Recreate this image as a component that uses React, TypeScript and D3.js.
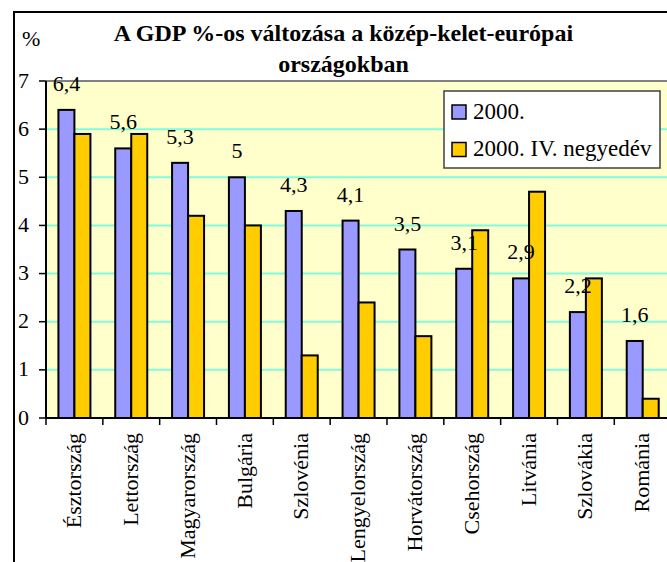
import React, { useEffect, useRef } from 'react';
import * as d3 from 'd3';

const categories = ['Észtország', 'Lettország', 'Magyarország', 'Bulgária', 'Szlovénia', 'Lengyelország', 'Horvátország', 'Csehország', 'Litvánia', 'Szlovákia', 'Románia'];
const values2000 = [6.4, 5.6, 5.3, 5, 4.3, 4.1, 3.5, 3.1, 2.9, 2.2, 1.6];
const valuesQ4 = [5.9, 5.9, 4.2, 4.0, 1.3, 2.4, 1.7, 3.9, 4.7, 2.9, 0.4];
const yTicks = [0, 1, 2, 3, 4, 5, 6, 7];
const seriesNames = ['2000.', '2000. IV. negyedév'];
const titleLines = ['A GDP %-os változása a közép-kelet-európai', 'országokban'];

const W = 667;
const H = 562;
const FONT = 'Liberation Serif, Times New Roman, serif';

const App = () => {
  const svgRef = useRef<SVGSVGElement>(null);

  useEffect(() => {
    const svg = d3.select(svgRef.current);
    svg.selectAll('*').remove();

    const plot = { left: 46, top: 81, bottom: 418, step: 56.83 };
    const plotRight = plot.left + categories.length * plot.step;

    // outer chart frame (cut off on the right and bottom)
    svg.append('rect')
      .attr('x', 14).attr('y', 12)
      .attr('width', 720).attr('height', 620)
      .attr('fill', '#fff')
      .attr('stroke', '#000')
      .attr('stroke-width', 2);

    const x = d3.scaleBand()
      .domain(categories)
      .range([plot.left, plotRight])
      .padding(0);

    const sub = d3.scaleBand()
      .domain(['a', 'b'])
      .range([0, x.bandwidth()])
      .paddingInner(0)
      .paddingOuter(0.776);

    const y = d3.scaleLinear()
      .domain([0, 7])
      .range([plot.bottom, plot.top]);

    // plot background
    svg.append('rect')
      .attr('x', plot.left).attr('y', plot.top)
      .attr('width', plotRight - plot.left)
      .attr('height', plot.bottom - plot.top)
      .attr('fill', '#ffffcc');

    // grid lines
    yTicks.filter(t => t > 0 && t < 7).forEach(t => {
      svg.append('line')
        .attr('x1', plot.left).attr('x2', plotRight)
        .attr('y1', y(t)).attr('y2', y(t))
        .attr('stroke', '#80fbe0')
        .attr('stroke-width', 2);
    });

    // top border of plot area
    svg.append('line')
      .attr('x1', plot.left).attr('x2', plotRight)
      .attr('y1', plot.top).attr('y2', plot.top)
      .attr('stroke', '#808080')
      .attr('stroke-width', 2);

    // bars
    const drawBars = (vals: number[], key: string, fill: string) => {
      svg.selectAll(`.bar-${key}`)
        .data(vals)
        .enter().append('rect')
        .attr('class', `bar-${key}`)
        .attr('x', (d, i) => (x(categories[i]) as number) + (sub(key) as number))
        .attr('y', d => y(d))
        .attr('width', sub.bandwidth())
        .attr('height', d => plot.bottom - y(d))
        .attr('fill', fill)
        .attr('stroke', '#000')
        .attr('stroke-width', 2);
    };
    drawBars(values2000, 'a', '#9999ff');
    drawBars(valuesQ4, 'b', '#ffcc00');

    // value labels for the 2000 series
    svg.selectAll('.lbl')
      .data(values2000)
      .enter().append('text')
      .attr('class', 'lbl')
      .attr('x', (d, i) => (x(categories[i]) as number) + (sub('a') as number) + sub.bandwidth() / 2)
      .attr('y', d => y(d) - 19)
      .attr('text-anchor', 'middle')
      .attr('font-family', FONT)
      .attr('font-size', 22)
      .text(d => String(d).replace('.', ','));

    // y axis
    const yAxis = svg.append('g');
    yAxis.append('line')
      .attr('x1', plot.left).attr('x2', plot.left)
      .attr('y1', plot.top).attr('y2', plot.bottom)
      .attr('stroke', '#000').attr('stroke-width', 2);
    yTicks.forEach(t => {
      yAxis.append('line')
        .attr('x1', plot.left - 7).attr('x2', plot.left)
        .attr('y1', y(t)).attr('y2', y(t))
        .attr('stroke', '#000').attr('stroke-width', 1.5);
      yAxis.append('text')
        .attr('x', 29)
        .attr('y', y(t))
        .attr('dy', '0.3em')
        .attr('text-anchor', 'end')
        .attr('font-family', FONT)
        .attr('font-size', 22)
        .text(t);
    });

    // x axis
    const xAxis = svg.append('g');
    xAxis.append('line')
      .attr('x1', plot.left).attr('x2', plotRight)
      .attr('y1', plot.bottom).attr('y2', plot.bottom)
      .attr('stroke', '#000').attr('stroke-width', 2);
    categories.forEach(c => {
      const x0 = x(c) as number;
      xAxis.append('line')
        .attr('x1', x0).attr('x2', x0)
        .attr('y1', plot.bottom).attr('y2', plot.bottom + 7)
        .attr('stroke', '#000').attr('stroke-width', 1.5);
      xAxis.append('text')
        .attr('transform', `translate(${x0 + x.bandwidth() / 2},${plot.bottom + 15}) rotate(-90)`)
        .attr('dy', '0.3em')
        .attr('text-anchor', 'end')
        .attr('font-family', FONT)
        .attr('font-size', 22)
        .text(c);
    });

    // title
    titleLines.forEach((line, i) => {
      svg.append('text')
        .attr('x', 343.5)
        .attr('y', 41 + i * 31)
        .attr('text-anchor', 'middle')
        .attr('font-family', FONT)
        .attr('font-size', 24)
        .attr('font-weight', 'bold')
        .text(line);
    });

    // unit label
    svg.append('text')
      .attr('x', 22).attr('y', 46)
      .attr('font-family', FONT)
      .attr('font-size', 22)
      .text('%');

    // legend
    const legend = svg.append('g');
    legend.append('rect')
      .attr('x', 444).attr('y', 91)
      .attr('width', 216).attr('height', 77)
      .attr('fill', '#fff')
      .attr('stroke', '#404040')
      .attr('stroke-width', 1.5);
    const colors = ['#9999ff', '#ffcc00'];
    seriesNames.forEach((name, i) => {
      legend.append('rect')
        .attr('x', 452).attr('y', 105 + i * 37.5)
        .attr('width', 14).attr('height', 14)
        .attr('fill', colors[i])
        .attr('stroke', '#000')
        .attr('stroke-width', 1.5);
      legend.append('text')
        .attr('x', 473).attr('y', 118.5 + i * 37)
        .attr('font-family', FONT)
        .attr('font-size', 23)
        .text(name);
    });
  }, []);

  return (
    <svg
      ref={svgRef}
      width={W}
      height={H}
      style={{ position: 'absolute', left: 0, top: 0, background: '#fff' }}
    />
  );
};

export default App;
